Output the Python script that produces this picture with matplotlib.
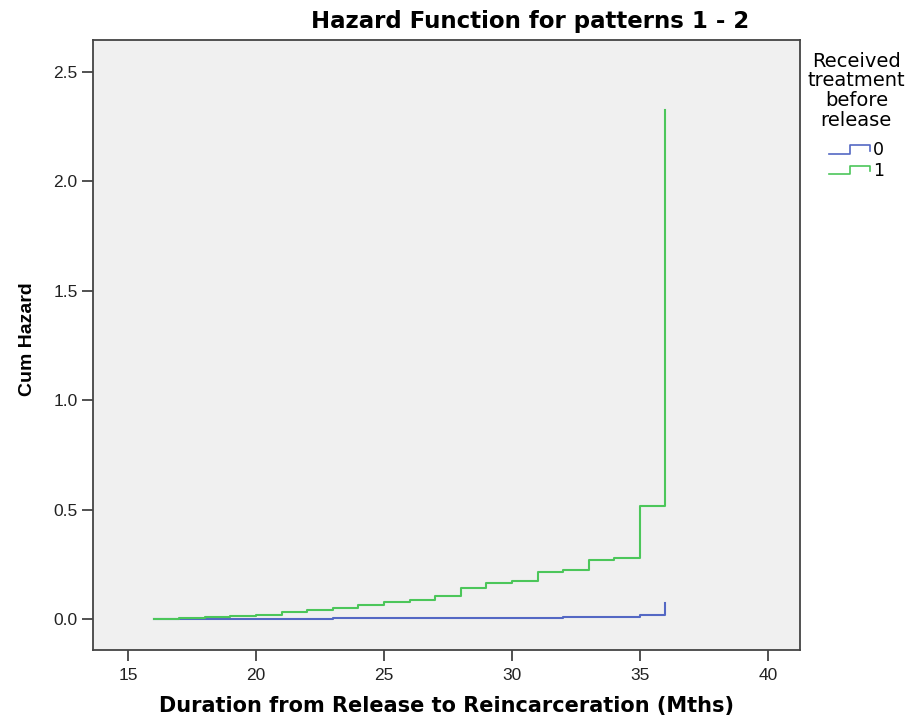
import numpy as np
import matplotlib
matplotlib.use("Agg")
import matplotlib.pyplot as plt
from matplotlib.lines import Line2D
from matplotlib.legend_handler import HandlerBase

plt.rcParams["font.family"] = ["Liberation Sans", "DejaVu Sans"]

# months at which the cumulative hazard steps (event times)
months = [16, 17, 18, 19, 20, 21, 22, 23, 24, 25, 26, 27, 28, 29, 30,
          31, 32, 33, 34, 35, 36]
# cum hazard, received treatment = 0
haz_0 = [0.000, 0.001, 0.001, 0.001, 0.002, 0.002, 0.002, 0.003, 0.003, 0.003,
         0.004, 0.004, 0.005, 0.005, 0.006, 0.006, 0.007, 0.008, 0.009, 0.018,
         0.072]
# cum hazard, received treatment = 1
haz_1 = [0.000, 0.003, 0.011, 0.015, 0.018, 0.031, 0.041, 0.050, 0.065, 0.078,
         0.087, 0.105, 0.140, 0.163, 0.175, 0.213, 0.224, 0.268, 0.280, 0.516,
         2.326]
groups = ["0", "1"]
colors = ["#5468c4", "#4cc65a"]

x_ticks = [15, 20, 25, 30, 35, 40]
y_ticks = [0.0, 0.5, 1.0, 1.5, 2.0, 2.5]


class StepHandler(HandlerBase):
    # little step glyph like the SPSS legend
    def create_artists(self, legend, orig, xd, yd, w, h, fontsize, trans):
        xs = [xd, xd + w * 0.5, xd + w * 0.5, xd + w, xd + w]
        ys = [yd + h * 0.1, yd + h * 0.1, yd + h * 0.8, yd + h * 0.8, yd + h * 0.35]
        ln = Line2D(xs, ys, color=orig.get_color(), lw=1.2, transform=trans)
        return [ln]


fig = plt.figure(figsize=(9.11, 7.17), dpi=100)
fig.patch.set_facecolor("white")
ax = fig.add_axes([0.102, 0.0934, 0.776, 0.851])
ax.set_facecolor("#f0f0f0")

handles = []
for g, h, c in zip(groups, [haz_0, haz_1], colors):
    ln, = ax.step(months, h, where="post", color=c, lw=1.5, label=g)
    handles.append(ln)

ax.set_xlim(13.63, 41.25)
ax.set_ylim(-0.142, 2.646)
ax.set_xticks(x_ticks)
ax.set_xticklabels([str(v) for v in x_ticks])
ax.set_yticks(y_ticks)
ax.set_yticklabels([f"{v:.1f}" for v in y_ticks])
ax.tick_params(direction="out", length=8, width=1.2, color="#333333",
               labelsize=12.5, labelcolor="#222222", pad=3)
ax.tick_params(axis="x", pad=5)
for s in ax.spines.values():
    s.set_color("#444444")
    s.set_linewidth(1.3)

ax.set_xlabel("Duration from Release to Reincarceration (Mths)",
              family="DejaVu Sans", fontsize=15, fontweight="bold", va="center")
ax.xaxis.set_label_coords(0.5, -0.091)
ax.set_ylabel("Cum Hazard", fontsize=14, fontweight="bold")
ax.yaxis.set_label_coords(-0.080, 0.51)

fig.text(0.582, 0.970, "Hazard Function for patterns 1 - 2", ha="center",
         va="center", family="DejaVu Sans", fontsize=16.5, fontweight="bold")

leg = fig.legend(handles=handles, labels=groups,
                 title="Received\ntreatment\nbefore\nrelease",
                 loc="upper center", bbox_to_anchor=(0.94, 0.945),
                 frameon=False, prop={"family": "DejaVu Sans", "size": 12.5},
                 handlelength=2.4, handletextpad=0.15, labelspacing=0.15,
                 borderpad=0.2, handler_map={Line2D: StepHandler()})
tt = leg.get_title()
tt.set_family("DejaVu Sans")
tt.set_fontsize(14)
tt.set_multialignment("center")
tt.set_linespacing(1.05)
leg._legend_box.sep = 8

fig.savefig("out.png", dpi=100)
